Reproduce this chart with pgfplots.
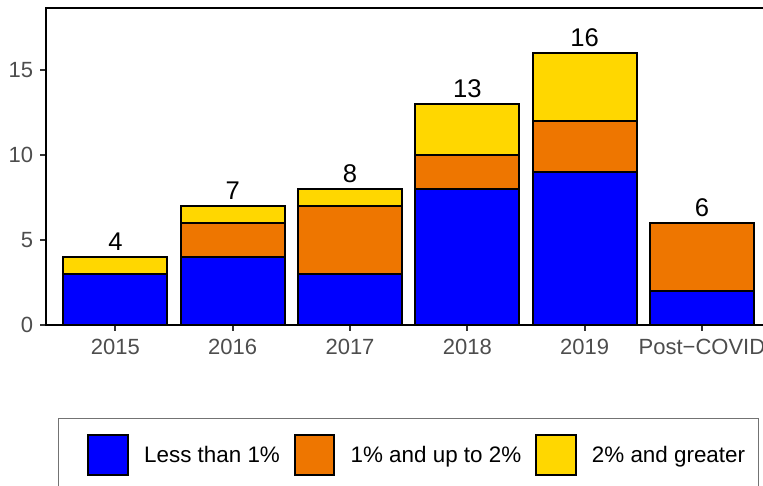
\documentclass[border=0pt]{standalone}
\usepackage{pgfplots}
\pgfplotsset{compat=1.18}
\usepackage{fontspec}
\setmainfont{Liberation Sans}

\definecolor{cblue}{HTML}{0000FF}
\definecolor{corange}{HTML}{EE7600}
\definecolor{cgold}{HTML}{FFD700}
\definecolor{tickgrey}{HTML}{4D4D4D}

% square legend keys; the first one carries the left padding of the box
\pgfplotsset{
  sqkey/.style={legend image code/.code={
      \draw[##1, line width=2pt] (0pt,-19.7pt) rectangle (39.4pt,19.7pt);}},
  sqkeyfirst/.style={legend image code/.code={
      \path (-29.3pt,0pt);
      \draw[##1, line width=2pt] (0pt,-19.7pt) rectangle (39.4pt,19.7pt);}},
  frame/.style={
    scale only axis,
    width=726.1pt, height=316.9pt,
    xmin=0.41, xmax=6.6,
    ymin=0, ymax=18.66,
  },
}

\begin{document}
\begin{tikzpicture}
\begin{axis}[
    frame,
    ybar stacked,
    bar width=104pt,
    xtick={1,2,3,4,5,6},
    xticklabels={2015,2016,2017,2018,2019,Post−COVID},
    ytick={0,5,10,15},
    tick pos=left,
    tick align=outside,
    major tick length=6pt,
    tick style={line width=2pt, color=black!80},
    axis line style={line width=2.2pt},
    ticklabel style={font=\fontsize{22}{26}\selectfont, text=tickgrey, inner sep=0pt},
    xticklabel style={yshift=-8pt},
    yticklabel style={xshift=-7pt},
    /pgf/number format/assume math mode=true,
    legend columns=3,
    legend cell align=left,
    legend style={
        at={(0,0)}, anchor=north west,
        xshift=11.5pt, yshift=-93.6pt,
        draw=black!55, line width=1pt,
        inner xsep=0pt, inner ysep=15.6pt,
        font=\fontsize{22.4}{26}\selectfont,
        nodes={inner sep=0pt},
        /tikz/every odd column/.append style={column sep=15.3pt},
        /tikz/every even column/.append style={column sep=14pt},
    },
]

% Less than 1%
\addplot[fill=cblue, draw=black, line width=2pt, sqkeyfirst] coordinates {
    (1,3) (2,4) (3,3) (4,8) (5,9) (6,2)
};
\addlegendentry{\raisebox{0pt}[\height][0pt]{Less than 1\%}}

% 1% and up to 2%
\addplot[fill=corange, draw=black, line width=2pt, sqkey] coordinates {
    (1,0) (2,2) (3,4) (4,2) (5,3) (6,4)
};
\addlegendentry{\raisebox{0pt}[\height][0pt]{1\% and up to 2\%}}

% 2% and greater
\addplot[fill=cgold, draw=black, line width=2pt, sqkey] coordinates {
    (1,1) (2,1) (3,1) (4,3) (5,4) (6,0)
};
\addlegendentry{\raisebox{0pt}[\height][0pt]{2\% and greater}\hspace*{13.5pt}}

\end{axis}

% totals above the bars, same frame, no stacking
\begin{axis}[frame, hide axis, clip=false,
    /pgf/number format/assume math mode=true]
\addplot[draw=none, mark=none, point meta=y,
    nodes near coords,
    nodes near coords style={font=\fontsize{25.6}{30}\selectfont, text=black,
        anchor=south, inner sep=0pt, yshift=6pt},
] coordinates {
    (1,4) (2,7) (3,8) (4,13) (5,16) (6,6)
};
\end{axis}

\pgfresetboundingbox
\path[use as bounding box] (-46.2pt,-161.3pt) rectangle (716.8pt,324.7pt);
\end{tikzpicture}
\end{document}
